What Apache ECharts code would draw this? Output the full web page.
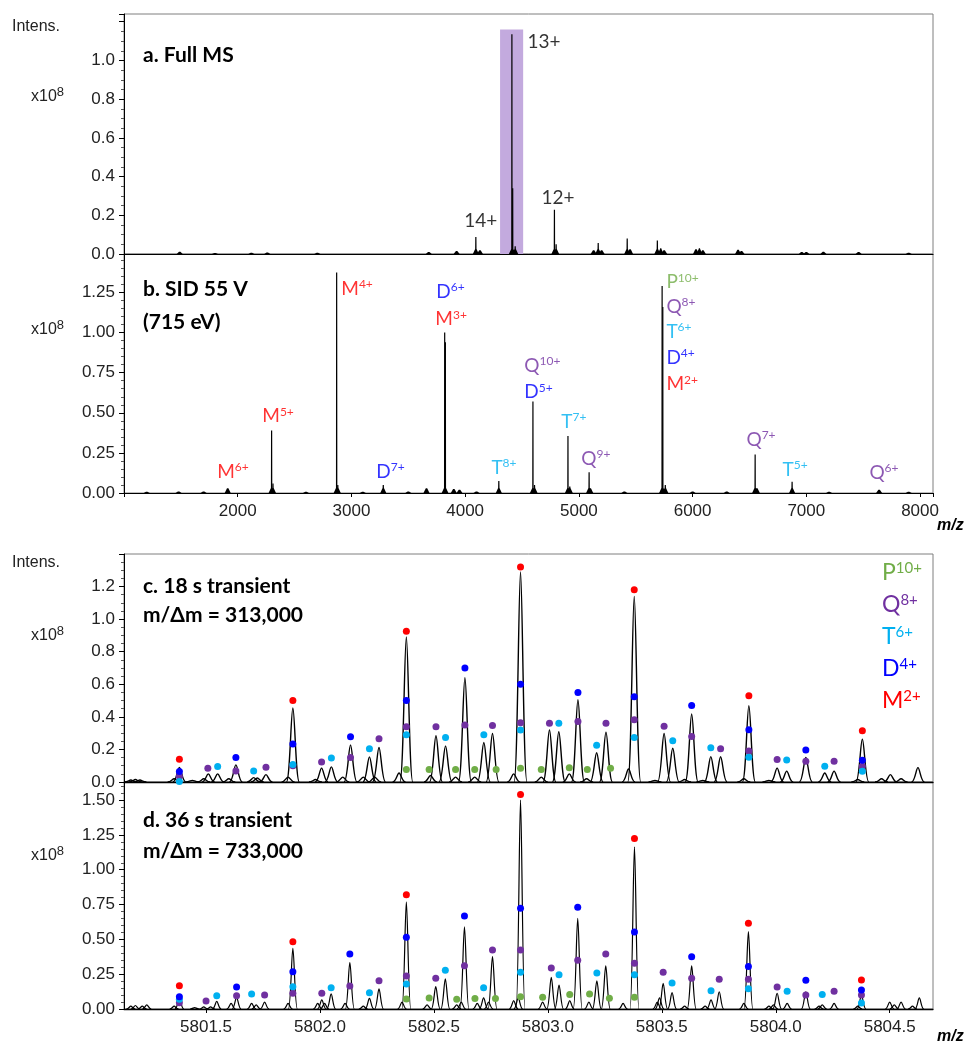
<!DOCTYPE html>
<html>
<head>
<meta charset="utf-8">
<script src="https://cdn.jsdelivr.net/npm/echarts@6/dist/echarts.min.js"></script>
<style>
  html, body { margin: 0; padding: 0; background: #fff; }
  #box { width: 971px; height: 1044px; }
</style>
</head>
<body>
<div id="box"></div>
<script>
// colours of the fragment species
const speciesColors = { M: '#ff0000', D: '#0000ff', T: '#00b0f0', Q: '#7030a0', P: '#70ad47' }

// a. Full MS, stick peaks [m/z, intensity x1e8]
const fullMsPeaks = [
  [1490, 0.012], [1800, 0.005], [2120, 0.006], [2260, 0.008], [2700, 0.006], [3680, 0.01],
  [3925, 0.015], [4094, 0.088], [4130, 0.02], [4411, 1.135], [4418, 0.34], [4440, 0.04],
  [4785, 0.228], [4800, 0.05], [5130, 0.02], [5170, 0.057], [5200, 0.02], [5425, 0.08],
  [5450, 0.025], [5690, 0.07], [5720, 0.03], [5750, 0.02], [6030, 0.025], [6060, 0.03],
  [6090, 0.02], [6400, 0.022], [6430, 0.015], [6960, 0.01], [7000, 0.01], [7150, 0.012],
  [7460, 0.01], [7900, 0.006]
]
const fullMsLabels = [['13+', 4552, 1.093], ['14+', 3997, 0.171], ['12+', 4675, 0.285]]
const isolationBand = [4307, 4510, 1.16]

// b. SID 55 V
const sidPeaks = [
  [1200, 0.008], [1480, 0.01], [1700, 0.01], [1912, 0.03], [2298, 0.39], [2310, 0.06],
  [2600, 0.008], [2870, 1.375], [2880, 0.05], [3100, 0.008], [3280, 0.05], [3500, 0.01],
  [3660, 0.03], [3820, 1.0], [3826, 0.94], [3900, 0.025], [3950, 0.02], [4100, 0.01],
  [4296, 0.075], [4596, 0.57], [4610, 0.05], [4904, 0.356], [4920, 0.04], [5090, 0.13],
  [5100, 0.03], [5400, 0.01], [5732, 1.29], [5738, 1.16], [5760, 0.05], [6000, 0.01],
  [6300, 0.01], [6550, 0.24], [6565, 0.03], [6875, 0.07], [7200, 0.008], [7640, 0.02],
  [7900, 0.008]
]
// [species, charge, m/z, y] label anchors
const sidLabels = [
  ['M', '6+', 1824, 0.13], ['M', '5+', 2220, 0.475], ['M', '4+', 2915, 1.27],
  ['D', '6+', 3750, 1.25], ['M', '3+', 3742, 1.08], ['D', '7+', 3223, 0.13],
  ['T', '8+', 4235, 0.155], ['Q', '10+', 4524, 0.79], ['D', '5+', 4524, 0.625],
  ['T', '7+', 4850, 0.44], ['Q', '9+', 5026, 0.21], ['P', '10+', 5774, 1.31],
  ['Q', '8+', 5774, 1.16], ['T', '6+', 5774, 1.0], ['D', '4+', 5774, 0.84],
  ['M', '2+', 5774, 0.675], ['Q', '7+', 6478, 0.33], ['T', '5+', 6795, 0.14],
  ['Q', '6+', 7559, 0.125]
]

// c. 18 s transient, profile peaks [m/z, intensity]
const c18Peaks = [
  [5801.17, 0.012], [5801.19, 0.015], [5801.21, 0.012], [5801.36, 0.02], [5801.383, 0.09],
  [5801.44, 0.01], [5801.49, 0.02], [5801.51, 0.05], [5801.551, 0.05], [5801.60, 0.02],
  [5801.631, 0.105], [5801.709, 0.027], [5801.725, 0.025], [5801.763, 0.045], [5801.86, 0.03],
  [5801.881, 0.455], [5801.98, 0.015], [5802.007, 0.085], [5802.05, 0.093], [5802.10, 0.03],
  [5802.134, 0.228], [5802.19, 0.03], [5802.217, 0.154], [5802.24, 0.03], [5802.259, 0.212],
  [5802.347, 0.055], [5802.379, 0.89], [5802.485, 0.04], [5802.509, 0.284], [5802.551, 0.222],
  [5802.595, 0.03], [5802.636, 0.64], [5802.679, 0.03], [5802.719, 0.243], [5802.757, 0.298],
  [5802.85, 0.05], [5802.88, 1.29], [5802.971, 0.03], [5803.007, 0.32], [5803.048, 0.309],
  [5803.094, 0.05], [5803.132, 0.505], [5803.17, 0.02], [5803.214, 0.18], [5803.255, 0.306],
  [5803.354, 0.08], [5803.379, 1.14], [5803.47, 0.01], [5803.510, 0.298], [5803.548, 0.207],
  [5803.60, 0.015], [5803.631, 0.418], [5803.68, 0.01], [5803.715, 0.156], [5803.758, 0.155],
  [5803.86, 0.02], [5803.882, 0.469], [5803.97, 0.01], [5804.006, 0.085], [5804.048, 0.067],
  [5804.132, 0.15], [5804.215, 0.055], [5804.256, 0.067], [5804.36, 0.015], [5804.38, 0.263],
  [5804.464, 0.02], [5804.503, 0.045], [5804.55, 0.02], [5804.624, 0.088]
]
const c18M = [[5801.383, 0.14], [5801.881, 0.50], [5802.379, 0.925], [5802.88, 1.32], [5803.379, 1.18], [5803.882, 0.529], [5804.38, 0.314]]
const c18D = [[5801.383, 0.065], [5801.631, 0.15], [5801.881, 0.233], [5802.134, 0.278], [5802.379, 0.50], [5802.636, 0.70], [5802.88, 0.60], [5803.132, 0.55], [5803.379, 0.524], [5803.631, 0.469], [5803.882, 0.321], [5804.132, 0.196], [5804.38, 0.134]]
const c18T = [[5801.383, 0.003], [5801.551, 0.095], [5801.709, 0.067], [5801.881, 0.108], [5802.05, 0.148], [5802.217, 0.204], [5802.379, 0.29], [5802.551, 0.273], [5802.719, 0.29], [5802.88, 0.32], [5803.048, 0.36], [5803.214, 0.226], [5803.379, 0.273], [5803.548, 0.253], [5803.715, 0.21], [5803.882, 0.152], [5804.048, 0.135], [5804.215, 0.097], [5804.38, 0.066]]
const c18Q = [[5801.383, 0.035], [5801.508, 0.085], [5801.631, 0.067], [5801.763, 0.09], [5801.881, 0.10], [5802.007, 0.123], [5802.134, 0.15], [5802.259, 0.265], [5802.379, 0.34], [5802.509, 0.34], [5802.636, 0.35], [5802.757, 0.347], [5802.88, 0.364], [5803.007, 0.36], [5803.132, 0.372], [5803.255, 0.36], [5803.379, 0.383], [5803.510, 0.343], [5803.631, 0.28], [5803.758, 0.204], [5803.882, 0.19], [5804.006, 0.138], [5804.132, 0.128], [5804.256, 0.128], [5804.38, 0.097]]
const c18P = [[5802.379, 0.076], [5802.479, 0.076], [5802.595, 0.076], [5802.679, 0.076], [5802.773, 0.076], [5802.88, 0.084], [5802.971, 0.076], [5803.094, 0.088], [5803.173, 0.076], [5803.275, 0.085]]

// d. 36 s transient
const d36Peaks = [
  [5801.17, 0.02], [5801.19, 0.025], [5801.22, 0.02], [5801.24, 0.03], [5801.36, 0.02],
  [5801.383, 0.077], [5801.45, 0.01], [5801.49, 0.015], [5801.52, 0.015], [5801.547, 0.055],
  [5801.61, 0.04], [5801.634, 0.084], [5801.70, 0.04], [5801.72, 0.03], [5801.757, 0.05],
  [5801.86, 0.04], [5801.881, 0.436], [5801.99, 0.04], [5802.008, 0.065], [5802.02, 0.04],
  [5802.049, 0.108], [5802.11, 0.04], [5802.131, 0.333], [5802.19, 0.02], [5802.217, 0.077],
  [5802.259, 0.144], [5802.36, 0.05], [5802.379, 0.77], [5802.47, 0.03], [5802.508, 0.16],
  [5802.55, 0.217], [5802.60, 0.03], [5802.62, 0.05], [5802.634, 0.59], [5802.69, 0.04],
  [5802.718, 0.08], [5802.74, 0.05], [5802.757, 0.376], [5802.85, 0.06], [5802.87, 0.08],
  [5802.88, 1.5], [5802.977, 0.05], [5803.015, 0.227], [5803.049, 0.172], [5803.096, 0.06],
  [5803.131, 0.651], [5803.18, 0.05], [5803.215, 0.203], [5803.254, 0.309], [5803.33, 0.04],
  [5803.38, 1.165], [5803.48, 0.05], [5803.49, 0.08], [5803.506, 0.184], [5803.545, 0.117],
  [5803.60, 0.02], [5803.631, 0.309], [5803.69, 0.02], [5803.716, 0.065], [5803.752, 0.124],
  [5803.86, 0.04], [5803.88, 0.555], [5803.97, 0.02], [5803.99, 0.03], [5804.006, 0.113],
  [5804.05, 0.04], [5804.132, 0.124], [5804.19, 0.02], [5804.204, 0.03], [5804.256, 0.04],
  [5804.36, 0.02], [5804.376, 0.1], [5804.50, 0.05], [5804.52, 0.03], [5804.55, 0.05],
  [5804.60, 0.02], [5804.63, 0.08]
]
const d36M = [[5801.383, 0.167], [5801.881, 0.483], [5802.379, 0.82], [5802.88, 1.54], [5803.38, 1.225], [5803.88, 0.615], [5804.376, 0.208]]
const d36D = [[5801.383, 0.088], [5801.634, 0.158], [5801.881, 0.268], [5802.131, 0.395], [5802.379, 0.515], [5802.634, 0.668], [5802.88, 0.723], [5803.131, 0.73], [5803.38, 0.553], [5803.631, 0.376], [5803.88, 0.306], [5804.132, 0.206], [5804.376, 0.136]]
const d36T = [[5801.383, 0.07], [5801.547, 0.096], [5801.70, 0.108], [5801.881, 0.16], [5802.049, 0.153], [5802.217, 0.117], [5802.379, 0.18], [5802.55, 0.278], [5802.718, 0.153], [5802.88, 0.263], [5803.049, 0.246], [5803.215, 0.258], [5803.38, 0.246], [5803.545, 0.187], [5803.716, 0.131], [5803.88, 0.146], [5804.05, 0.128], [5804.204, 0.105], [5804.376, 0.043]]
const d36Q = [[5801.383, 0.045], [5801.5, 0.057], [5801.634, 0.096], [5801.757, 0.1], [5801.881, 0.113], [5802.008, 0.113], [5802.131, 0.165], [5802.259, 0.203], [5802.379, 0.237], [5802.508, 0.22], [5802.634, 0.311], [5802.757, 0.424], [5802.88, 0.424], [5803.015, 0.294], [5803.131, 0.35], [5803.254, 0.395], [5803.38, 0.328], [5803.506, 0.263], [5803.631, 0.22], [5803.752, 0.213], [5803.88, 0.213], [5804.006, 0.158], [5804.132, 0.1], [5804.256, 0.127], [5804.376, 0.1]]
const d36P = [[5802.379, 0.072], [5802.479, 0.079], [5802.60, 0.07], [5802.68, 0.075], [5802.77, 0.075], [5802.88, 0.088], [5802.977, 0.084], [5803.096, 0.105], [5803.183, 0.108], [5803.27, 0.077], [5803.38, 0.084]]

const wideTicks = [2000, 3000, 4000, 5000, 6000, 7000, 8000]
const zoomTicks = [5801.5, 5802.0, 5802.5, 5803.0, 5803.5, 5804.0, 5804.5]
const legendOrder = [['P', '10+'], ['Q', '8+'], ['T', '6+'], ['D', '4+'], ['M', '2+']]

const myeCharts = echarts.init(document.getElementById('box'))

const tickFont = 'Liberation Sans'
const labelFont = 'Lato'

// rich styles for "M4+" style labels (color for series labels, fill for graphic text)
function speciesRich(big, small) {
  const rich = {}
  Object.keys(speciesColors).forEach(k => {
    const c = speciesColors[k]
    rich[k] = { color: c, fill: c, fontSize: big, fontFamily: labelFont, lineHeight: big + 2 }
    rich[k + 's'] = { color: c, fill: c, fontSize: small, fontFamily: labelFont, lineHeight: small + 1, verticalAlign: 'top' }
  })
  return rich
}

// stick peak for the wide scans
function stickItem(params, api) {
  const b = api.coord([api.value(0), 0])
  const t = api.coord([api.value(0), api.value(1)])
  const s = Math.min(b[1] - t[1], 5)
  return {
    type: 'polygon',
    shape: { points: [[b[0] - 3, b[1]], [b[0] - 0.7, b[1] - s], [b[0] - 0.6, t[1]], [b[0] + 0.6, t[1]], [b[0] + 0.7, b[1] - s], [b[0] + 3, b[1]]] },
    style: { fill: '#000' }
  }
}

// profile peak for the zoomed scans
function profileItem(w, lw) {
  return function (params, api) {
    const b = api.coord([api.value(0), 0])
    const t = api.coord([api.value(0), api.value(1)])
    const x = b[0], y0 = b[1], yt = t[1]
    return {
      type: 'path',
      shape: { pathData: `M${x - w} ${y0} C${x - w * 0.45} ${y0} ${x - w * 0.28} ${yt} ${x} ${yt} C${x + w * 0.28} ${yt} ${x + w * 0.45} ${y0} ${x + w} ${y0}` },
      style: { fill: null, stroke: '#000', lineWidth: lw }
    }
  }
}

const grids = [
  { left: 124, top: 14, width: 809, height: 240 },
  { left: 124, top: 254, width: 809, height: 239 },
  { left: 124, top: 554, width: 809, height: 228 },
  { left: 124, top: 782, width: 809, height: 227 }
].map(g => Object.assign(g, { show: true, borderColor: '#7f7f7f', borderWidth: 1, backgroundColor: 'transparent' }))

function yAxisOf(i, max, interval, limit, digits) {
  return {
    type: 'value', gridIndex: i, min: 0, max: max, interval: interval,
    axisLine: { show: true, lineStyle: { color: '#000', width: 1 } },
    axisTick: { show: true, length: 5, lineStyle: { color: '#000' } },
    minorTick: { show: true, splitNumber: 5, length: 3, lineStyle: { color: '#555' } },
    splitLine: { show: false },
    axisLabel: {
      fontFamily: tickFont, fontSize: 17, color: '#222', margin: 9,
      formatter: v => (v > limit ? '' : v.toFixed(digits))
    }
  }
}

const xAxes = [
  {
    type: 'value', gridIndex: 0, min: 1000, max: 8114, interval: 1000,
    axisLine: { lineStyle: { color: '#000', width: 1.2 } },
    axisTick: { show: false }, axisLabel: { show: false }, splitLine: { show: false }
  },
  {
    type: 'value', gridIndex: 1, min: 1000, max: 8114, interval: 1000,
    axisLine: { lineStyle: { color: '#000', width: 1.2 } },
    axisTick: { show: true, length: 4, lineStyle: { color: '#000' } },
    splitLine: { show: false },
    axisLabel: {
      fontFamily: tickFont, fontSize: 17, color: '#222', margin: 10,
      formatter: v => (wideTicks.includes(v) ? String(v) : '')
    }
  },
  {
    type: 'value', gridIndex: 2, min: 5801.14, max: 5804.69,
    axisLine: { lineStyle: { color: '#000', width: 1.3 } },
    axisTick: { show: false }, axisLabel: { show: false }, splitLine: { show: false }
  },
  {
    type: 'value', gridIndex: 3, min: 5801.14, max: 5804.69,
    axisLine: { lineStyle: { color: '#000', width: 1.3 } },
    axisTick: { show: true, length: 4, customValues: zoomTicks, lineStyle: { color: '#000' } },
    splitLine: { show: false },
    axisLabel: {
      customValues: zoomTicks, fontFamily: tickFont, fontSize: 17, color: '#222', margin: 10,
      formatter: v => v.toFixed(1)
    }
  }
]

const yAxes = [
  yAxisOf(0, 1.24, 0.2, 1.05, 1),
  yAxisOf(1, 1.49, 0.25, 1.3, 2),
  yAxisOf(2, 1.40, 0.2, 1.25, 1),
  yAxisOf(3, 1.63, 0.25, 1.55, 2)
]
yAxes[0].minorTick.splitNumber = 4
yAxes[2].minorTick.splitNumber = 4

function dotSeries(idx, data, color) {
  return {
    type: 'scatter', xAxisIndex: idx, yAxisIndex: idx, data: data,
    symbol: 'circle', symbolSize: 7, z: 5, silent: true,
    itemStyle: { color: color, opacity: 1 }
  }
}

const series = [
  {
    type: 'custom', xAxisIndex: 0, yAxisIndex: 0, data: fullMsPeaks, renderItem: stickItem,
    encode: { x: 0, y: 1 }, z: 3, silent: true,
    markArea: {
      silent: true, itemStyle: { color: '#c3aade' }, z: 1,
      data: [[{ coord: [isolationBand[0], 0] }, { coord: [isolationBand[1], isolationBand[2]] }]]
    }
  },
  {
    type: 'scatter', xAxisIndex: 0, yAxisIndex: 0, symbolSize: 1, silent: true, z: 6,
    itemStyle: { color: 'transparent' },
    data: fullMsLabels.map(l => [l[1], l[2], l[0]]),
    label: {
      show: true, position: [0, 0], align: 'left', verticalAlign: 'middle',
      formatter: p => p.data[2], fontFamily: labelFont, fontSize: 19, color: '#000'
    }
  },
  {
    type: 'custom', xAxisIndex: 1, yAxisIndex: 1, data: sidPeaks, renderItem: stickItem,
    encode: { x: 0, y: 1 }, z: 3, silent: true
  },
  {
    type: 'scatter', xAxisIndex: 1, yAxisIndex: 1, symbolSize: 1, silent: true, z: 6,
    itemStyle: { color: 'transparent' },
    data: sidLabels.map(l => [l[2], l[3], l[0], l[1]]),
    label: {
      show: true, position: [0, 0], align: 'left', verticalAlign: 'middle',
      formatter: p => `{${p.data[2]}|${p.data[2]}}{${p.data[2]}s|${p.data[3]}}`,
      rich: speciesRich(19, 12)
    }
  },
  {
    type: 'custom', xAxisIndex: 2, yAxisIndex: 2, data: c18Peaks, renderItem: profileItem(6.5, 1.4),
    encode: { x: 0, y: 1 }, z: 3, silent: true
  },
  dotSeries(2, c18P, speciesColors.P),
  dotSeries(2, c18Q, speciesColors.Q),
  dotSeries(2, c18T, speciesColors.T),
  dotSeries(2, c18D, speciesColors.D),
  dotSeries(2, c18M, speciesColors.M),
  {
    type: 'custom', xAxisIndex: 3, yAxisIndex: 3, data: d36Peaks, renderItem: profileItem(4.5, 1.2),
    encode: { x: 0, y: 1 }, z: 3, silent: true
  },
  dotSeries(3, d36P, speciesColors.P),
  dotSeries(3, d36Q, speciesColors.Q),
  dotSeries(3, d36T, speciesColors.T),
  dotSeries(3, d36D, speciesColors.D),
  dotSeries(3, d36M, speciesColors.M)
]

// text decorations
function txt(x, y, text, style) {
  return { type: 'text', x: x, y: y, silent: true, style: Object.assign({ text: text, fill: '#000', verticalAlign: 'middle' }, style) }
}
const sciRich = {
  a: { fontFamily: tickFont, fontSize: 16, fill: '#222', lineHeight: 22 },
  e: { fontFamily: tickFont, fontSize: 13, fill: '#222', lineHeight: 14, verticalAlign: 'top' }
}
const titleStyle = { fontFamily: labelFont, fontWeight: 'bold', fontSize: 21 }
const graphic = [
  txt(12, 27, 'Intens.', { fontFamily: tickFont, fontSize: 16, fill: '#222' }),
  txt(12, 563, 'Intens.', { fontFamily: tickFont, fontSize: 16, fill: '#222' }),
  txt(31, 97, '{a|x10}{e|8}', { rich: sciRich }),
  txt(31, 330, '{a|x10}{e|8}', { rich: sciRich }),
  txt(31, 636, '{a|x10}{e|8}', { rich: sciRich }),
  txt(31, 856, '{a|x10}{e|8}', { rich: sciRich }),
  txt(143, 55, 'a. Full MS', titleStyle),
  txt(143, 289, 'b. SID 55 V', titleStyle),
  txt(143, 322, '(715 eV)', titleStyle),
  txt(143, 586, 'c. 18 s transient', titleStyle),
  txt(143, 615, 'm/\u0394m = 313,000', titleStyle),
  txt(143, 820, 'd. 36 s transient', titleStyle),
  txt(143, 851, 'm/\u0394m = 733,000', titleStyle),
  txt(937, 526, 'm/z', { fontFamily: tickFont, fontSize: 16, fontWeight: 'bold', fontStyle: 'italic' }),
  txt(937, 1037, 'm/z', { fontFamily: tickFont, fontSize: 16, fontWeight: 'bold', fontStyle: 'italic' })
]
const legendRich = speciesRich(23, 15)
legendOrder.forEach((l, i) => {
  graphic.push(txt(882, 573 + i * 32, `{${l[0]}|${l[0]}}{${l[0]}s|${l[1]}}`, { rich: legendRich }))
})

const option = {
  backgroundColor: '#fff',
  animation: false,
  grid: grids,
  xAxis: xAxes,
  yAxis: yAxes,
  series: series,
  graphic: graphic
}
myeCharts.setOption(option)
</script>
</body>
</html>
